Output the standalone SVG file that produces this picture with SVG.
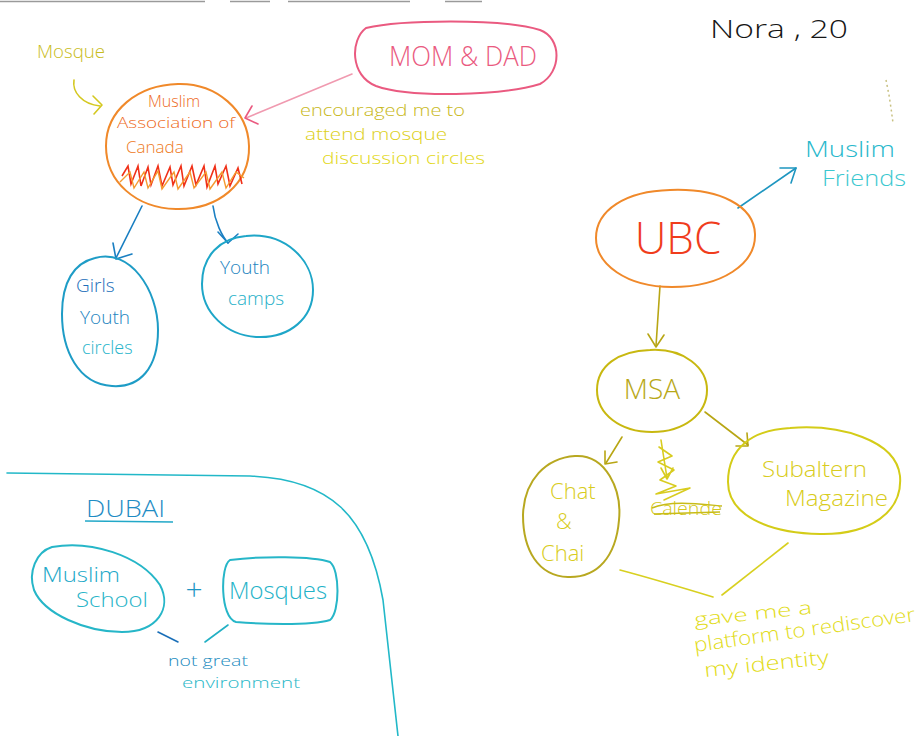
<svg xmlns="http://www.w3.org/2000/svg" width="924" height="736" viewBox="0 0 924 736">
<defs>
<style>
text{font-family:"Open Sans","Liberation Sans",sans-serif;font-weight:300}
.node{fill:none;stroke-width:2;stroke-linecap:round;stroke-linejoin:round}
.con{fill:none;stroke-width:1.6;stroke-linecap:round;stroke-linejoin:round}
.orange{stroke:#f0892a}
.pink{stroke:#ea5a80}
.olive{stroke:#b8a614}
.yellow{stroke:#e2d82a}
.teal{stroke:#26b6c8}
.blue{stroke:#1a7fc2}
</style>
</defs>
<rect x="0" y="0" width="924" height="736" fill="#ffffff"/>
<path d="M0,1.5 H205 M230,1.5 H270 M288,1.5 H410 M445,1.5 H482" stroke="#9a9a9a" stroke-width="1.5" fill="none"/>
<path d="M886,80 L889,95 L891,108 L893,123" stroke="#c8c080" stroke-width="1.5" stroke-dasharray="2 3" fill="none"/>

<g id="title">
<text x="710" y="38" font-size="26" fill="#161616" textLength="138" lengthAdjust="spacingAndGlyphs">Nora , 20</text>
</g>

<g id="connectors">
<!-- Mosque -> MAC -->
<path class="con" stroke="#d4c820" d="M74,80 C72,92 82,104 100,106"/>
<path class="con" stroke="#d4c820" d="M93,96 L102,105 L94,114"/>
<!-- MOM & DAD -> MAC -->
<path class="con" stroke="#f09ab0" d="M352,74 L246,118"/>
<path class="con" stroke="#ea5a80" d="M252,106 L245,118 L258,124"/>
<!-- MAC -> Girls -->
<path class="con blue" d="M142,206 L116,258"/>
<path class="con blue" d="M113,243 L116,259 L132,254"/>
<!-- MAC -> Youth camps -->
<path class="con blue" d="M213,206 C215,222 222,236 228,243"/>
<path class="con blue" d="M218,232 L228,243 L238,234"/>
<!-- UBC -> Muslim Friends -->
<path class="con" stroke="#1e96c0" d="M738,208 L796,168"/>
<path class="con" stroke="#1e96c0" d="M780,168 L796,168 L791,183"/>
<!-- UBC -> MSA -->
<path class="con olive" d="M660,286 L656,346"/>
<path class="con olive" d="M648,334 L656,347 L664,335"/>
<!-- MSA -> Chat & Chai -->
<path class="con olive" d="M622,437 L606,463"/>
<path class="con olive" d="M605,451 L605,464 L617,462"/>
<!-- MSA -> Subaltern -->
<path class="con olive" d="M705,412 L748,445"/>
<path class="con olive" d="M747,433 L748,446 L736,446"/>
<!-- crossed-out branch -->
<path class="con" stroke="#d8cc20" d="M661,440 L667,478 M661,468 L667,479 L673,468 M659,447 L672,456 L658,462 L674,470 L660,480 L676,486 L656,494 L690,488 L664,500"/>
<!-- Chat / Subaltern -> note -->
<path class="con" stroke="#d8d020" d="M620,570 C650,578 690,590 713,597"/>
<path class="con" stroke="#d8d020" d="M722,595 L788,543"/>
<!-- Dubai -> note -->
<path class="con" stroke="#1a6fb8" stroke-width="2.4" d="M158,632 L178,642"/>
<path class="con" stroke="#22b0c4" d="M205,642 L228,625"/>
<!-- Dubai region border -->
<path class="con" stroke="#22b8c8" stroke-width="2" d="M7,473 L250,476 C330,479 368,515 383,600 L398,736"/>
</g>

<g id="mosque-label">
<text x="37" y="58" font-size="18" fill="#c8bc20" textLength="68" lengthAdjust="spacingAndGlyphs">Mosque</text>
</g>

<g id="mac">
<path class="node orange" d="M178,84 C216,83 248,110 249,146 C250,184 218,210 176,209 C136,208 106,182 106,146 C106,110 138,85 178,84 Z"/>
<text x="174" y="107" font-size="16" fill="#ee6a22" text-anchor="middle">Muslim</text>
<text x="176" y="128" font-size="15" fill="#ee6a22" text-anchor="middle" textLength="118" lengthAdjust="spacingAndGlyphs">Association of</text>
<text x="126" y="153" font-size="17" fill="#ee7a22">Canada</text>
<path fill="none" stroke="#f03018" stroke-width="1.6" d="M122,176 L128,166 L131,184 L138,166 L141,186 L148,167 L151,185 L158,166 L162,186 L170,167 L173,185 L181,166 L184,186 L192,166 L196,185 L204,166 L207,187 L215,166 L218,184 L226,166 L230,186 L238,168 L242,184"/>
<path fill="none" stroke="#f59a30" stroke-width="1.4" d="M120,182 L130,172 L134,188 L144,172 L148,188 L158,171 L162,189 L174,172 L178,189 L190,172 L194,188 L206,172 L210,189 L222,172 L226,188 L236,172 L244,178"/>
</g>

<g id="momdad">
<path class="node pink" d="M366,28 C400,20 500,18 540,30 C562,38 562,72 540,84 C500,96 410,98 376,86 C350,76 350,40 366,28 Z"/>
<text x="389" y="66" font-size="27" fill="#ea5a80" textLength="148" lengthAdjust="spacingAndGlyphs">MOM &amp; DAD</text>
</g>

<g id="encouraged-label">
<text x="300" y="116" font-size="16" fill="#c8b820" textLength="165" lengthAdjust="spacingAndGlyphs">encouraged me to</text>
<text x="305" y="140" font-size="16" fill="#ddd020" textLength="142" lengthAdjust="spacingAndGlyphs">attend mosque</text>
<text x="322" y="164" font-size="16" fill="#e2d820" textLength="163" lengthAdjust="spacingAndGlyphs">discussion circles</text>
</g>

<g id="girls">
<path class="node" stroke="#1e9cc6" d="M95,258 C130,248 158,290 158,330 C158,368 140,388 112,386 C78,384 62,350 62,314 C62,282 74,263 95,258 Z"/>
<text x="76" y="292" font-size="19" fill="#1c6fba">Girls</text>
<text x="80" y="324" font-size="19" fill="#1c84c0">Youth</text>
<text x="82" y="354" font-size="18" fill="#26b4ca">circles</text>
</g>

<g id="youthcamps">
<path class="node" stroke="#1ea6c8" d="M246,236 C285,232 313,260 313,290 C313,318 290,338 258,337 C226,336 202,312 202,284 C202,256 220,238 246,236 Z"/>
<text x="220" y="274" font-size="19" fill="#1c84c0">Youth</text>
<text x="228" y="305" font-size="19" fill="#26b0c8">camps</text>
</g>

<g id="ubc">
<path class="node orange" d="M670,190 C720,188 754,206 755,234 C756,264 722,287 672,287 C626,287 596,264 596,238 C596,210 626,191 670,190 Z"/>
<text x="678" y="254" font-size="44" fill="#f03c1c" text-anchor="middle">UBC</text>
</g>

<g id="muslimfriends">
<text x="805" y="157" font-size="22" fill="#28b8cc" textLength="90" lengthAdjust="spacingAndGlyphs">Muslim</text>
<text x="822" y="186" font-size="22" fill="#3cc8d0" textLength="84" lengthAdjust="spacingAndGlyphs">Friends</text>
</g>

<g id="msa">
<path class="node" stroke="#c8b810" d="M650,350 C684,348 707,368 707,390 C707,414 684,432 652,432 C620,432 597,414 597,390 C597,366 618,351 650,350 Z"/>
<text x="652" y="399" font-size="28" fill="#b8a818" text-anchor="middle">MSA</text>
</g>

<g id="crossed-out">
<text x="650" y="515" font-size="18" fill="#d4c820" textLength="72" lengthAdjust="spacingAndGlyphs">Calende</text>
<path fill="none" stroke="#c8bc18" stroke-width="1.4" d="M652,508 C670,500 700,504 722,506 M654,514 L720,512"/>
</g>

<g id="chatchai">
<path class="node" stroke="#b8a820" d="M575,456 C606,454 622,490 619,520 C616,556 598,578 568,577 C538,576 523,550 523,515 C524,480 546,458 575,456 Z"/>
<text x="550" y="499" font-size="22" fill="#d8cc20">Chat</text>
<text x="556" y="529" font-size="22" fill="#d8cc20">&amp;</text>
<text x="541" y="561" font-size="22" fill="#d8cc20">Chai</text>
</g>

<g id="subaltern">
<path class="node" stroke="#d4cc18" d="M790,428 C840,424 896,440 900,476 C903,512 870,535 820,534 C766,533 728,514 728,482 C728,448 752,430 790,428 Z"/>
<text x="762" y="477" font-size="22" fill="#d8cc20" textLength="105" lengthAdjust="spacingAndGlyphs">Subaltern</text>
<text x="785" y="506" font-size="22" fill="#d8cc20" textLength="103" lengthAdjust="spacingAndGlyphs">Magazine</text>
</g>

<g id="platform-label">
<text x="695" y="626" font-size="18" fill="#e2dc20" transform="rotate(-6 695 626)" textLength="118" lengthAdjust="spacingAndGlyphs">gave me a</text>
<text x="695" y="652" font-size="20" fill="#e2dc20" transform="rotate(-8 695 652)" textLength="223" lengthAdjust="spacingAndGlyphs">platform to rediscover</text>
<text x="705" y="677" font-size="20" fill="#e2dc20" transform="rotate(-6 705 677)" textLength="125" lengthAdjust="spacingAndGlyphs">my identity</text>
</g>

<g id="dubai">
<text x="86" y="517" font-size="24" fill="#1e8cc4" textLength="79" lengthAdjust="spacingAndGlyphs">DUBAI</text>
<path fill="none" stroke="#22a8c8" stroke-width="1.6" d="M85,521 L173,522"/>
</g>

<g id="muslimschool">
<path class="node teal" d="M52,547 C90,540 140,555 160,585 C172,608 158,632 122,632 C86,632 44,614 34,590 C28,572 36,552 52,547 Z"/>
<text x="42" y="582" font-size="21" fill="#22a8c8" textLength="78" lengthAdjust="spacingAndGlyphs">Muslim</text>
<text x="76" y="607" font-size="21" fill="#28b4c8" textLength="72" lengthAdjust="spacingAndGlyphs">School</text>
</g>

<g id="plus">
<text x="194" y="600" font-size="30" fill="#1e96c4" text-anchor="middle">+</text>
</g>

<g id="mosques">
<path class="node teal" d="M230,560 C262,556 312,556 330,562 C340,570 340,612 330,620 C310,626 258,624 236,622 C220,618 220,566 230,560 Z"/>
<text x="229" y="599" font-size="23" fill="#22b2c8" textLength="98" lengthAdjust="spacingAndGlyphs">Mosques</text>
</g>

<g id="notgreat-label">
<text x="168" y="666" font-size="15" fill="#1e8cc0" textLength="80" lengthAdjust="spacingAndGlyphs">not great</text>
<text x="182" y="688" font-size="15" fill="#2ab8c8" textLength="118" lengthAdjust="spacingAndGlyphs">environment</text>
</g>
</svg>
